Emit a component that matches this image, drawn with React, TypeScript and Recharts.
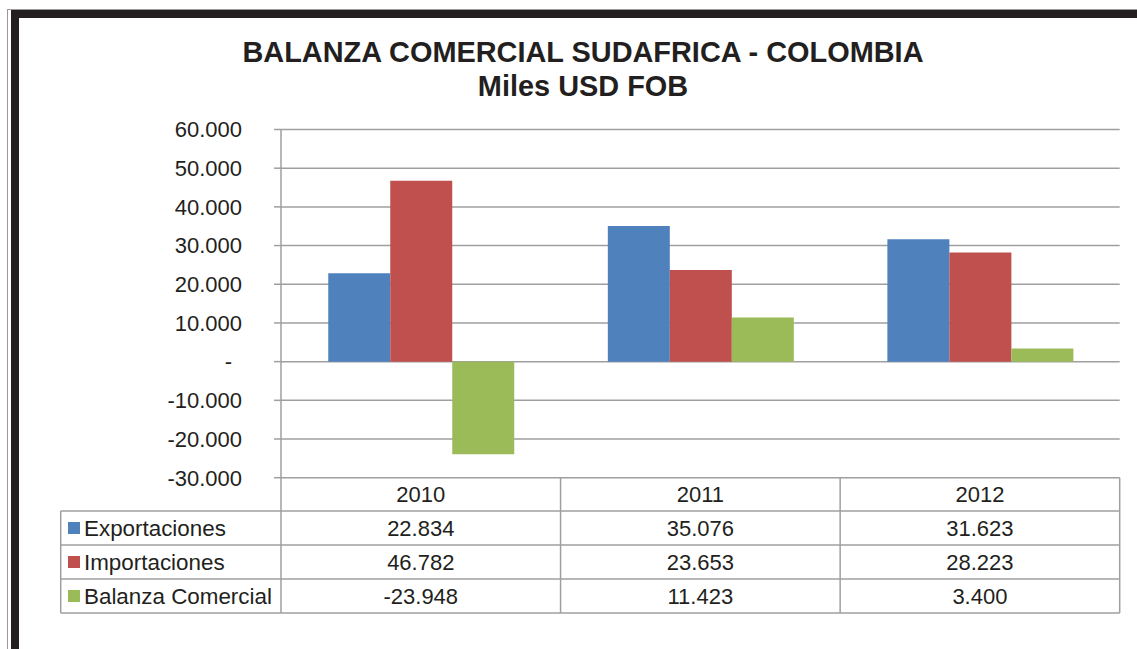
import React from 'react';
import { Bar, BarChart, CartesianGrid, XAxis, YAxis } from 'recharts';

const years = ['2010', '2011', '2012'];
const exportaciones = [22834, 35076, 31623];
const importaciones = [46782, 23653, 28223];
const balanza = [-23948, 11423, 3400];
const yTicks = [-30000, -20000, -10000, 0, 10000, 20000, 30000, 40000, 50000, 60000];

const series = [
  { key: 'exportaciones', name: 'Exportaciones', color: '#4f81bd', values: exportaciones },
  { key: 'importaciones', name: 'Importaciones', color: '#c0504d', values: importaciones },
  { key: 'balanza', name: 'Balanza Comercial', color: '#9bbb59', values: balanza },
];

const data = years.map((year, i) => ({
  year,
  exportaciones: exportaciones[i],
  importaciones: importaciones[i],
  balanza: balanza[i],
}));

const W = 1137;
const H = 649;
const PLOT_LEFT = 281;
const PLOT_RIGHT = 1119.7;
const PLOT_TOP = 129.5;
const PLOT_BOTTOM = 477.7;
const Y_AXIS_W = 80;
const TABLE_LEFT = 60.7;
const ROW_LINES = [PLOT_BOTTOM, 511, 545, 579, 613];
const FONT = '"Liberation Sans", Arial, sans-serif';
const TEXT = '#231f20';
const GRID = '#9f9f9f';

// 22834 -> "22.834", 0 -> "-"
function fmt(v: number) {
  if (v === 0) return '-';
  const s = Math.abs(v).toString().replace(/\B(?=(\d{3})+(?!\d))/g, '.');
  return v < 0 ? '-' + s : s;
}

function YTick(props: any) {
  const { x, y, payload } = props;
  const shift = payload.value === 0 ? 10 : 0;
  return (
    <text x={x - shift} y={y} dy="0.355em" textAnchor="end" fontSize={22} fill={TEXT} fontFamily={FONT}>
      {fmt(payload.value)}
    </text>
  );
}

function DataTable() {
  const colW = (PLOT_RIGHT - PLOT_LEFT) / years.length;
  const cols = years.map((_, i) => PLOT_LEFT + colW * i);
  const rowCenter = (i: number) => (ROW_LINES[i] + ROW_LINES[i + 1]) / 2;
  return (
    <svg width={W} height={H} style={{ position: 'absolute', left: 0, top: 0 }}>
      {ROW_LINES.slice(1).map((y) => (
        <line key={'h' + y} x1={TABLE_LEFT} x2={PLOT_RIGHT} y1={y} y2={y} stroke={GRID} strokeWidth={1.5} />
      ))}
      <line x1={TABLE_LEFT} x2={TABLE_LEFT} y1={ROW_LINES[1]} y2={ROW_LINES[4]} stroke={GRID} strokeWidth={1.5} />
      {[...cols, PLOT_RIGHT].map((x) => (
        <line key={'v' + x} x1={x} x2={x} y1={PLOT_BOTTOM} y2={ROW_LINES[4]} stroke={GRID} strokeWidth={1.5} />
      ))}
      {years.map((yr, i) => (
        <text key={yr} x={cols[i] + colW / 2} y={rowCenter(0) + 8} textAnchor="middle" fontSize={22} fill={TEXT} fontFamily={FONT}>
          {yr}
        </text>
      ))}
      {series.map((s, r) => (
        <g key={s.key}>
          <rect x={68} y={rowCenter(r + 1) - 6} width={12} height={12} fill={s.color} />
          <text x={84} y={rowCenter(r + 1) + 8} fontSize={22.4} fill={TEXT} fontFamily={FONT}>
            {s.name}
          </text>
          {s.values.map((v, i) => (
            <text key={i} x={cols[i] + colW / 2} y={rowCenter(r + 1) + 8} textAnchor="middle" fontSize={22} fill={TEXT} fontFamily={FONT}>
              {fmt(v)}
            </text>
          ))}
        </g>
      ))}
    </svg>
  );
}

export default function App() {
  return (
    <div style={{ position: 'absolute', left: 0, top: 0, width: W, height: H, background: '#fff', overflow: 'hidden', fontFamily: FONT }}>
      <svg width={W} height={H} style={{ position: 'absolute', left: 0, top: 0 }}>
        <line x1={7} x2={W} y1={9.5} y2={9.5} stroke="#9a9a9a" strokeWidth={1} />
        <line x1={7.5} x2={7.5} y1={9} y2={H} stroke="#9a9a9a" strokeWidth={1} />
        <rect x={11} y={10} width={W - 11} height={8} fill={TEXT} />
        <rect x={11} y={10} width={8} height={H - 10} fill={TEXT} />
        <text x={583} y={62} textAnchor="middle" fontSize={28.9} fontWeight="bold" fill={TEXT} fontFamily={FONT}>
          BALANZA COMERCIAL SUDAFRICA - COLOMBIA
        </text>
        <text x={583} y={95.5} textAnchor="middle" fontSize={28.9} fontWeight="bold" fill={TEXT} fontFamily={FONT}>
          Miles USD FOB
        </text>
      </svg>
      <div style={{ position: 'absolute', left: 0, top: 0 }}>
        <BarChart
          width={W}
          height={H}
          data={data}
          barGap={0}
          barCategoryGap="16.9%"
          margin={{ top: PLOT_TOP, right: W - PLOT_RIGHT, bottom: H - PLOT_BOTTOM, left: PLOT_LEFT - Y_AXIS_W }}
        >
          <CartesianGrid vertical={false} stroke={GRID} strokeWidth={1.5} />
          <XAxis dataKey="year" hide height={0} />
          <YAxis
            width={Y_AXIS_W}
            domain={[-30000, 60000]}
            ticks={yTicks}
            interval={0}
            tickSize={7}
            tickMargin={32}
            tick={<YTick />}
            axisLine={{ stroke: GRID, strokeWidth: 1.5 }}
            tickLine={{ stroke: GRID, strokeWidth: 1.5 }}
          />
          {series.map((s) => (
            <Bar key={s.key} dataKey={s.key} name={s.name} fill={s.color} isAnimationActive={false} />
          ))}
        </BarChart>
      </div>
      <DataTable />
    </div>
  );
}
